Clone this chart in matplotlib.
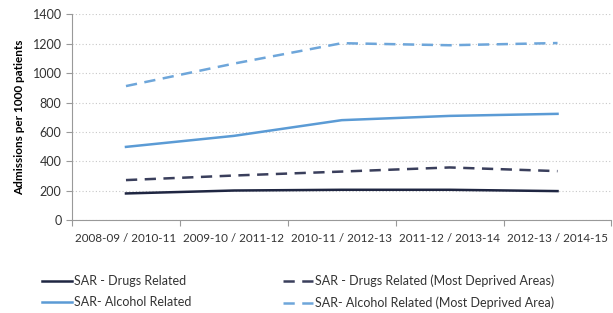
import matplotlib
matplotlib.use('Agg')
from matplotlib import pyplot as plt

plt.rcParams['font.family'] = ['Lato', 'DejaVu Sans']

periods = ['2008-09 / 2010-11', '2009-10 / 2011-12', '2010-11 / 2012-13',
           '2011-12 / 2013-14', '2012-13 / 2014-15']
drugs = [181, 201, 206, 206, 197]
drugs_deprived = [272, 303, 330, 358, 333]
alcohol = [498, 573, 680, 709, 723]
alcohol_deprived = [912, 1065, 1204, 1190, 1205]

DARK = '#1f2642'
DARK_DASH = '#3a3f5c'
BLUE = '#5b9bd5'
BLUE_DASH = '#6ea6da'

fig = plt.figure(figsize=(6.13, 3.13), dpi=100)
ax = fig.add_axes([0.1175, 0.297, 0.88, 0.657])

x = range(len(periods))
l1, = ax.plot(x, drugs, color=DARK, lw=1.8, label='SAR - Drugs Related')
l2, = ax.plot(x, alcohol, color=BLUE, lw=1.8, label='SAR- Alcohol Related')
l3, = ax.plot(x, drugs_deprived, color=DARK_DASH, lw=1.8, ls=(0, (4.5, 3)),
              label='SAR - Drugs Related (Most Deprived Areas)')
l4, = ax.plot(x, alcohol_deprived, color=BLUE_DASH, lw=1.8, ls=(0, (4.5, 3)),
              label='SAR- Alcohol Related (Most Deprived Area)')

ax.set_xlim(-0.5, len(periods) - 0.5)
ax.set_ylim(0, 1400)
ax.set_yticks(range(0, 1401, 200))
ax.yaxis.grid(True, color='#c8c8c8', ls=(0, (1, 2)), lw=0.8)
ax.set_axisbelow(True)

ax.set_xticks([i - 0.5 for i in range(len(periods) + 1)])
ax.set_xticklabels([])
ax.set_xticks(list(x), minor=True)
ax.set_xticklabels(periods, minor=True)
ax.tick_params(axis='x', which='major', length=4, color='#999999')
ax.tick_params(axis='x', which='minor', length=0, pad=9, labelsize=8.4, labelcolor='#333333')
ax.tick_params(axis='y', length=4, color='#999999', labelsize=9, labelcolor='#333333')

for s in ['top', 'right']:
    ax.spines[s].set_visible(False)
for s in ['left', 'bottom']:
    ax.spines[s].set_color('#999999')

ax.set_ylabel('Admissions per 1000 patients', fontsize=8.5, fontweight='bold', labelpad=5)

fig.legend(handles=[l1, l2, l3, l4], ncol=2, loc='upper left',
           bbox_to_anchor=(0.068, 0.123), frameon=False, fontsize=9,
           handlelength=2.4, handletextpad=0.2, columnspacing=7.3,
           labelspacing=0.75, borderaxespad=0, borderpad=0, labelcolor='#333333')

fig.savefig('out.png', dpi=100)
